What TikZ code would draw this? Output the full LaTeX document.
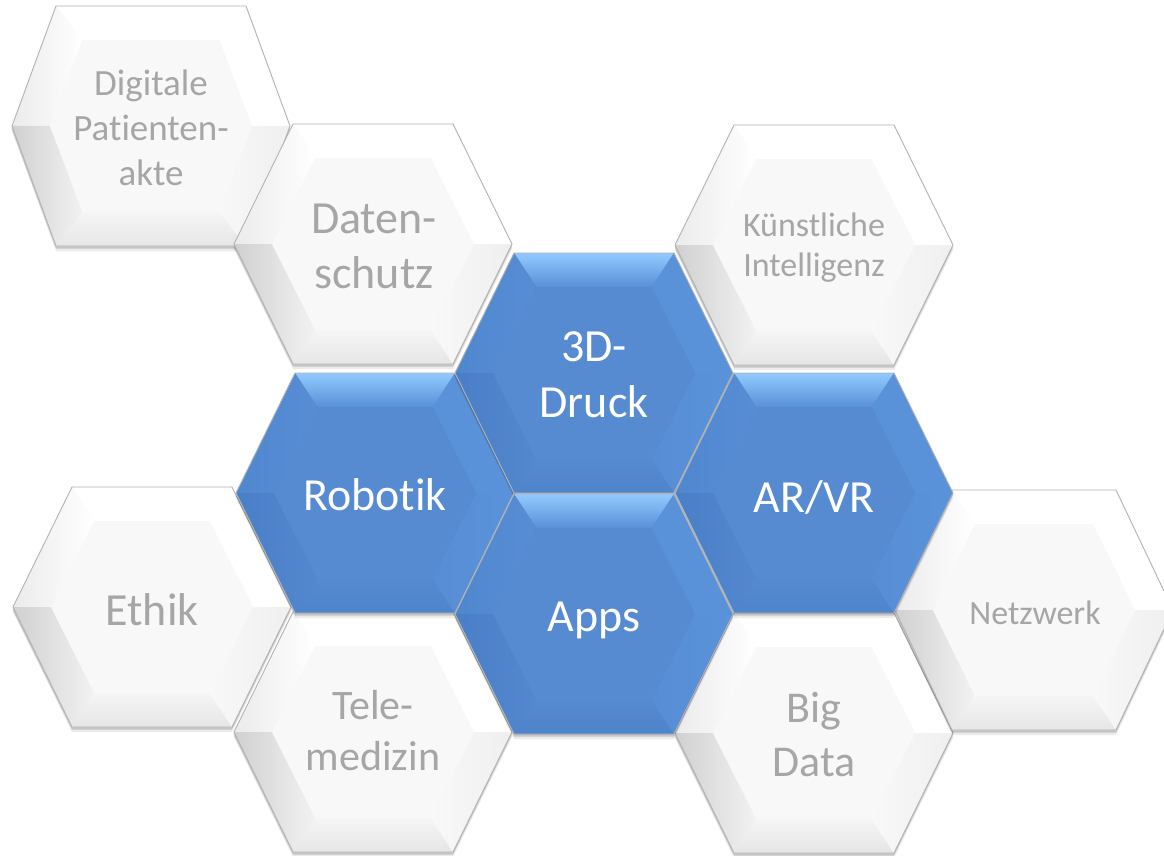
\documentclass[tikz,border=0pt]{standalone}
\usepackage{fontspec}
\setmainfont{Carlito}[Ligatures={NoCommon}]
\definecolor{txtgray}{HTML}{A6A6A6}
\definecolor{edgegray}{HTML}{B3B3B3}
\definecolor{gInner}{HTML}{F8F8F8}
\definecolor{gULo}{HTML}{EBEBEB}
\definecolor{gLLo}{HTML}{D0D0D0}
\definecolor{gLLi}{HTML}{F2F2F2}
\definecolor{gBo}{HTML}{E6E6E6}
\definecolor{gBi}{HTML}{F5F5F5}
\definecolor{gLRi}{HTML}{F8F8F8}
\definecolor{gLRo}{HTML}{EFEFEF}
\definecolor{bInner}{HTML}{568BD1}
\definecolor{bTopO}{HTML}{92CAFF}
\definecolor{bTopI}{HTML}{5990D7}
\definecolor{bULo}{HTML}{4F87CF}
\definecolor{bULi}{HTML}{588DD4}
\definecolor{bLLo}{HTML}{4A7FC7}
\definecolor{bLLi}{HTML}{5388CF}
\definecolor{bBo}{HTML}{4E84CB}
\definecolor{bBi}{HTML}{558AD0}
\definecolor{bLRi}{HTML}{578DD4}
\definecolor{bLRo}{HTML}{5A93DB}
\definecolor{bUR}{HTML}{5A92DA}
\newcommand{\tIsep}{t\kern0pt i}
\newcommand{\hexpts}[3]{%
  \coordinate (L) at ({#1-139},{#2});
  \coordinate (TL) at ({#1-#3},{#2-120});
  \coordinate (TR) at ({#1+#3},{#2-120});
  \coordinate (R) at ({#1+139},{#2});
  \coordinate (BR) at ({#1+#3},{#2+120});
  \coordinate (BL) at ({#1-#3},{#2+120});
  \coordinate (iL) at ({#1-101},{#2});
  \coordinate (iTL) at ({#1-0.72*#3},{#2-86});
  \coordinate (iTR) at ({#1+0.72*#3},{#2-86});
  \coordinate (iR) at ({#1+101},{#2});
  \coordinate (iBR) at ({#1+0.72*#3},{#2+86});
  \coordinate (iBL) at ({#1-0.72*#3},{#2+86});
}
\newcommand{\hexshadow}{%
  \fill[black, opacity=0.08] ([yshift=-5pt]L) -- ([yshift=-5pt]TL) -- ([yshift=-5pt]TR) -- ([yshift=-5pt]R) -- ([yshift=-5pt]BR) -- ([yshift=-5pt]BL) -- cycle;
  \fill[black, opacity=0.16] ([xshift=-0.5pt,yshift=-2.5pt]L) -- ([yshift=-2.5pt]TL) -- ([yshift=-2.5pt]TR) -- ([yshift=-2.5pt]R) -- ([yshift=-2.5pt]BR) -- ([yshift=-2.5pt]BL) -- cycle;
}
\newcommand{\grayhex}[3]{%
  \hexpts{#1}{#2}{#3}
  \hexshadow
  \fill[gInner] (L)--(TL)--(TR)--(R)--(BR)--(BL)--cycle;
  \fill[white] (TL)--(TR)--(iTR)--(iTL)--cycle;
  \shade[left color=gULo, right color=white] (L)--(TL)--(iTL)--(iL)--cycle;
  \shade[left color=gLLo, right color=gLLi] (L)--(iL)--(iBL)--(BL)--cycle;
  \shade[top color=gBi, bottom color=gBo] (iBL)--(iBR)--(BR)--(BL)--cycle;
  \shade[left color=gLRi, right color=gLRo] (iR)--(R)--(BR)--(iBR)--cycle;
  \fill[white] (TR)--(R)--(iR)--(iTR)--cycle;
  \fill[gInner] (iL)--(iTL)--(iTR)--(iR)--(iBR)--(iBL)--cycle;
  \draw[hexline] (L)--(TL)--(TR)--(R)--(BR)--(BL)--cycle;
}
\newcommand{\bluehex}[3]{%
  \hexpts{#1}{#2}{#3}
  \hexshadow
  \fill[bInner] (L)--(TL)--(TR)--(R)--(BR)--(BL)--cycle;
  \shade[top color=bTopO, bottom color=bTopI] (TL)--(TR)--(iTR)--(iTL)--cycle;
  \shade[left color=bULo, right color=bULi] (L)--(TL)--(iTL)--(iL)--cycle;
  \shade[left color=bLLo, right color=bLLi] (L)--(iL)--(iBL)--(BL)--cycle;
  \shade[top color=bBi, bottom color=bBo] (iBL)--(iBR)--(BR)--(BL)--cycle;
  \shade[left color=bLRi, right color=bLRo] (iR)--(R)--(BR)--(iBR)--cycle;
  \fill[bUR] (TR)--(R)--(iR)--(iTR)--cycle;
  \fill[bInner] (iL)--(iTL)--(iTR)--(iR)--(iBR)--(iBL)--cycle;
  \draw[hexline] (L)--(TL)--(TR)--(R)--(BR)--(BL)--cycle;
}
\tikzset{
  hexline/.style={draw=edgegray, line width=0.9pt, line join=round},
  bluetext/.style={text=white, align=center, text depth=0pt, inner sep=0pt, font=\fontsize{46}{56}\selectfont},
  graytext/.style={text=txtgray, align=center, text depth=0pt, inner sep=0pt},
}
\begin{document}
\begin{tikzpicture}[x=1pt, y=-1pt]
  \fill[white] (0,0) rectangle (1164,856);
  \useasboundingbox (0,0) rectangle (1164,856);
  % gray hexagons
  \grayhex{151}{126}{95}
  \grayhex{373}{244}{80}
  \grayhex{814}{245}{80}
  \grayhex{152}{607}{80}
  \grayhex{373}{732}{80}
  \grayhex{814}{733}{80}
  \grayhex{1034}{610}{82}
  % blue hexagons
  \bluehex{375}{493}{80}
  \bluehex{594}{373}{80}
  \bluehex{814}{493}{80}
  \bluehex{594}{614}{80}
  % labels
  \node[graytext, font=\fontsize{37}{45}\selectfont] (digital) at (151,128) {Digitale\\Pa\tIsep enten-\\akte};
  \node[graytext, font=\fontsize{46}{55}\selectfont] (daten) at (374,246) {Daten-\\schutz};
  \node[graytext, font=\fontsize{34}{40}\selectfont] (ki) at (814,245) {Künstliche\\Intelligenz};
  \node[graytext, font=\fontsize{46}{55}\selectfont] (ethik) at (152,609.5) {Ethik};
  \node[graytext, font=\fontsize{42}{51}\selectfont] (tele) at (373,730.5) {Tele-\\medizin};
  \node[graytext, font=\fontsize{44}{54}\selectfont] (bigdata) at (814,734) {Big\\Data};
  \node[graytext, font=\fontsize{34}{40}\selectfont] (netz) at (1035,612.5) {Netzwerk};
  \node[bluetext] (druck) at (594,374.5) {3D-\\Druck};
  \node[bluetext] (robotik) at (375,495) {Robo\tIsep k};
  \node[bluetext] (arvr) at (814,497) {AR/VR};
  \node[bluetext] (apps) at (594,617) {Apps};
\end{tikzpicture}
\end{document}
